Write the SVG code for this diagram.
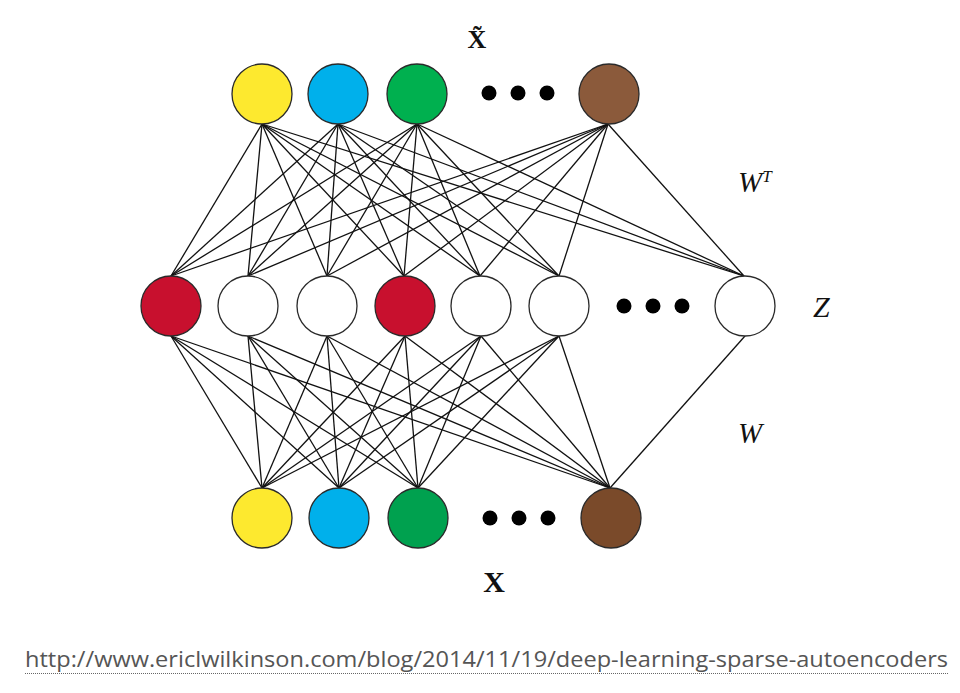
<svg xmlns="http://www.w3.org/2000/svg" width="960" height="693" viewBox="0 0 960 693">
<style>
.n{stroke:#2a2a2a;stroke-width:1.3}
.e line{stroke:#111;stroke-width:1.3}
.d{fill:#000}
.lbl{font-family:"Liberation Serif",serif;fill:#111}
.it{font-style:italic}
.url{font-family:"Open Sans","Liberation Sans",sans-serif;font-size:22px;fill:#555}
</style>
<rect width="960" height="693" fill="#fff"/>
<g id="connectors" class="e">
<!-- top to middle -->
<line x1="262" y1="124" x2="171" y2="276"/><line x1="262" y1="124" x2="248" y2="276"/><line x1="262" y1="124" x2="327" y2="276"/><line x1="262" y1="124" x2="404" y2="276"/><line x1="262" y1="124" x2="480" y2="276"/><line x1="262" y1="124" x2="559" y2="276"/><line x1="262" y1="124" x2="744" y2="276"/>
<line x1="338" y1="124" x2="171" y2="276"/><line x1="338" y1="124" x2="248" y2="276"/><line x1="338" y1="124" x2="327" y2="276"/><line x1="338" y1="124" x2="404" y2="276"/><line x1="338" y1="124" x2="480" y2="276"/><line x1="338" y1="124" x2="559" y2="276"/><line x1="338" y1="124" x2="744" y2="276"/>
<line x1="417" y1="124" x2="171" y2="276"/><line x1="417" y1="124" x2="248" y2="276"/><line x1="417" y1="124" x2="327" y2="276"/><line x1="417" y1="124" x2="404" y2="276"/><line x1="417" y1="124" x2="480" y2="276"/><line x1="417" y1="124" x2="559" y2="276"/><line x1="417" y1="124" x2="744" y2="276"/>
<line x1="608" y1="124" x2="171" y2="276"/><line x1="608" y1="124" x2="248" y2="276"/><line x1="608" y1="124" x2="327" y2="276"/><line x1="608" y1="124" x2="404" y2="276"/><line x1="608" y1="124" x2="480" y2="276"/><line x1="608" y1="124" x2="559" y2="276"/><line x1="608" y1="124" x2="744" y2="276"/>
<!-- middle to bottom -->
<line x1="171" y1="336" x2="262" y2="488"/><line x1="248" y1="336" x2="262" y2="488"/><line x1="327" y1="336" x2="262" y2="488"/><line x1="405" y1="336" x2="262" y2="488"/><line x1="481" y1="336" x2="262" y2="488"/><line x1="559" y1="336" x2="262" y2="488"/>
<line x1="171" y1="336" x2="339" y2="488"/><line x1="248" y1="336" x2="339" y2="488"/><line x1="327" y1="336" x2="339" y2="488"/><line x1="405" y1="336" x2="339" y2="488"/><line x1="481" y1="336" x2="339" y2="488"/><line x1="559" y1="336" x2="339" y2="488"/>
<line x1="171" y1="336" x2="418" y2="488"/><line x1="248" y1="336" x2="418" y2="488"/><line x1="327" y1="336" x2="418" y2="488"/><line x1="405" y1="336" x2="418" y2="488"/><line x1="481" y1="336" x2="418" y2="488"/><line x1="559" y1="336" x2="418" y2="488"/>
<line x1="171" y1="336" x2="610" y2="488"/><line x1="248" y1="336" x2="610" y2="488"/><line x1="327" y1="336" x2="610" y2="488"/><line x1="405" y1="336" x2="610" y2="488"/><line x1="481" y1="336" x2="610" y2="488"/><line x1="559" y1="336" x2="610" y2="488"/><line x1="745" y1="336" x2="610" y2="488"/>
</g>
<g id="top-1"><circle class="n" cx="262" cy="94" r="30" fill="#FDE92F"/></g>
<g id="top-2"><circle class="n" cx="338" cy="94" r="30" fill="#00B0EB"/></g>
<g id="top-3"><circle class="n" cx="417" cy="94" r="30" fill="#00B04F"/></g>
<g id="top-dots"><circle class="d" cx="489" cy="93" r="7.5"/><circle class="d" cx="518" cy="93" r="7.5"/><circle class="d" cx="547" cy="93" r="7.5"/></g>
<g id="top-4"><circle class="n" cx="609" cy="94" r="30" fill="#8B5A3B"/></g>
<g id="mid-1"><circle class="n" cx="171" cy="306" r="30" fill="#C8102E"/></g>
<g id="mid-2"><circle class="n" cx="248" cy="306" r="30" fill="#fff"/></g>
<g id="mid-3"><circle class="n" cx="327" cy="306" r="30" fill="#fff"/></g>
<g id="mid-4"><circle class="n" cx="405" cy="306" r="30" fill="#C8102E"/></g>
<g id="mid-5"><circle class="n" cx="481" cy="306" r="30" fill="#fff"/></g>
<g id="mid-6"><circle class="n" cx="559" cy="306" r="30" fill="#fff"/></g>
<g id="mid-dots"><circle class="d" cx="624" cy="306" r="7.5"/><circle class="d" cx="653" cy="306" r="7.5"/><circle class="d" cx="682" cy="306" r="7.5"/></g>
<g id="mid-7"><circle class="n" cx="745" cy="306" r="30" fill="#fff"/></g>
<g id="bot-1"><circle class="n" cx="262" cy="518" r="30" fill="#FDE92F"/></g>
<g id="bot-2"><circle class="n" cx="339" cy="518" r="30" fill="#00B0EB"/></g>
<g id="bot-3"><circle class="n" cx="418" cy="518" r="30" fill="#00A14F"/></g>
<g id="bot-dots"><circle class="d" cx="490" cy="518" r="7.5"/><circle class="d" cx="519" cy="518" r="7.5"/><circle class="d" cx="548" cy="518" r="7.5"/></g>
<g id="bot-4"><circle class="n" cx="611" cy="518" r="30" fill="#7A4A2A"/></g>
<g id="labels">
<text class="lbl" x="477" y="48" font-size="26" font-weight="bold" text-anchor="middle">X̃</text>
<text class="lbl" x="494" y="592" font-size="30" font-weight="bold" text-anchor="middle">X</text>
<text class="lbl it" x="738" y="192" font-size="29">W<tspan font-size="17" dy="-10">T</tspan></text>
<text class="lbl it" x="813" y="317" font-size="30">Z</text>
<text class="lbl it" x="738" y="443" font-size="29">W</text>
</g>
<g id="url">
<text class="url" x="25" y="667" textLength="923" lengthAdjust="spacingAndGlyphs">http://www.ericlwilkinson.com/blog/2014/11/19/deep-learning-sparse-autoencoders</text>
<line x1="25" y1="673.5" x2="948" y2="673.5" stroke="#666" stroke-width="1" stroke-dasharray="1 1"/>
</g>
</svg>
